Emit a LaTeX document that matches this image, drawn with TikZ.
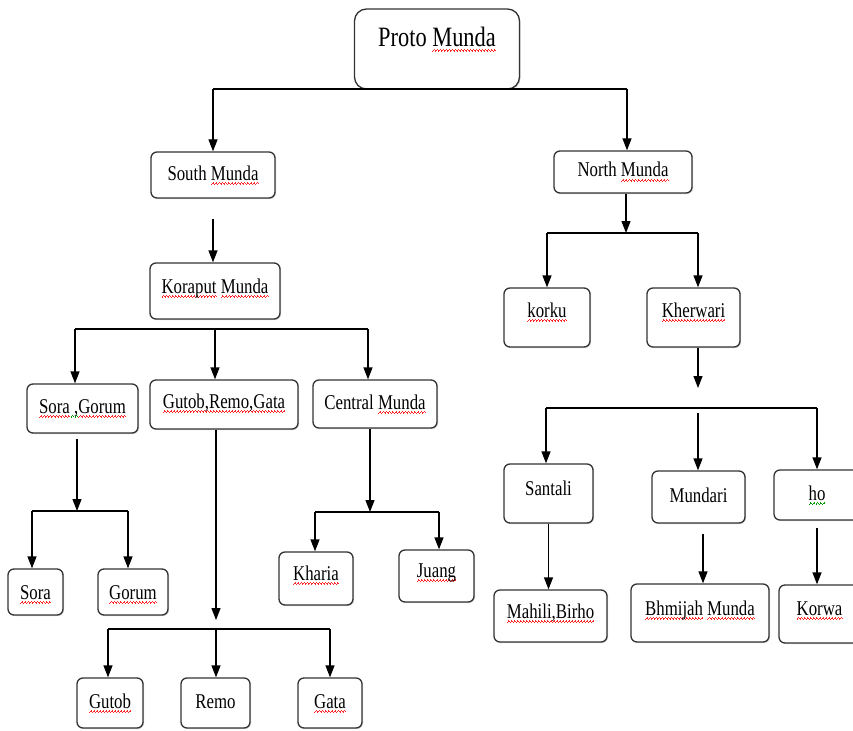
\documentclass[tikz,border=0pt]{standalone}
\usepackage{fontspec}
\setmainfont{Liberation Serif}[FakeStretch=0.8]
\usepackage{tikz}
\usetikzlibrary{arrows.meta, positioning, shadows}
\usepackage{xcolor}
\newsavebox{\wordbox}
\newcommand{\wave}{\hbox{\rule[-4.6pt]{0.75pt}{1pt}\rule[-3.7pt]{0.75pt}{1pt}\rule[-2.8pt]{0.75pt}{1pt}\rule[-3.7pt]{0.75pt}{1pt}}}
\newcommand{\squig}[2]{\sbox{\wordbox}{#2}\rlap{\hbox to \wd\wordbox{\color{#1}\xleaders\wave\hfill}}\usebox{\wordbox}}
\newcommand{\spell}[1]{\squig{red!85!white}{#1}}
\newcommand{\grammar}[1]{\squig{green!60!black}{#1}}
\tikzset{%
	every lang/.style={
		draw=black!80,
		line width=1.3pt,
		rounded corners=6pt,
		fill=white,
		inner sep=0pt,
		text height=14pt,
		text depth=4pt,
		font=\fontsize{21}{24}\selectfont,
		drop shadow={shadow xshift=1pt, shadow yshift=-1pt, opacity=0.35}
	},
}

\begin{document}
\begin{tikzpicture}[
				x=1pt, y=-1pt,
				line width=1.3pt,
				branch/.style={-{Triangle[length=12pt, width=9pt]}}
				]
				\useasboundingbox (0,0) rectangle (853,730);
				
				% Language boxes
				\node[every lang, minimum width=165pt, minimum height=80pt, rounded corners=12pt, font=\fontsize{28}{32}\selectfont, text height=20pt, text depth=24pt] (proto) at (437,49) {Proto \spell{Munda}};
				\node[every lang, minimum width=124pt, minimum height=46pt] (south) at (213,175) {South \spell{Munda}};
				\node[every lang, minimum width=138pt, minimum height=42pt] (north) at (623,172) {North \spell{Munda}};
				\node[every lang, minimum width=130pt, minimum height=56pt, text depth=10pt] (koraput) at (215,291) {\spell{Koraput} \spell{Munda}};
				\node[every lang, minimum width=111pt, minimum height=49pt] (soragorum) at (82.5,408.5) {\spell{Sora}\grammar{\ ,}\spell{Gorum}};
				\node[every lang, minimum width=148pt, minimum height=49pt, text depth=7pt] (gutobremo) at (224,404.5) {\spell{Gutob,Remo,Gata}};
				\node[every lang, minimum width=124pt, minimum height=48pt] (central) at (375,404) {Central \spell{Munda}};
				\node[every lang, minimum width=55pt, minimum height=46pt, text depth=0pt] (sora) at (35.5,592) {\spell{Sora}};
				\node[every lang, minimum width=70pt, minimum height=46pt, text depth=0pt] (gorum) at (133,592) {\spell{Gorum}};
				\node[every lang, minimum width=66pt, minimum height=50pt] (gutob) at (110,703) {\spell{Gutob}};
				\node[every lang, minimum width=69pt, minimum height=50pt] (remo) at (215.5,703) {Remo};
				\node[every lang, minimum width=64pt, minimum height=50pt] (gata) at (330,703) {\spell{Gata}};
				\node[every lang, minimum width=74pt, minimum height=53pt, text depth=11pt] (kharia) at (316,578.5) {\spell{Kharia}};
				\node[every lang, minimum width=75pt, minimum height=52pt, text depth=12pt] (juang) at (436.5,576) {\spell{Juang}};
				\node[every lang, minimum width=86pt, minimum height=59pt, text depth=15pt] (korku) at (547,317.5) {\spell{korku}};
				\node[every lang, minimum width=93pt, minimum height=59pt, text depth=15pt] (kherwari) at (693.5,317.5) {\spell{Kherwari}};
				\node[every lang, minimum width=89pt, minimum height=59pt, text depth=11pt] (santali) at (548.5,493.5) {Santali};
				\node[every lang, minimum width=93pt, minimum height=52pt] (mundari) at (698.5,497) {Mundari};
				\node[every lang, minimum width=86pt, minimum height=50pt] (ho) at (817,495) {\grammar{ho}};
				\node[every lang, minimum width=113pt, minimum height=52pt, text depth=10pt] (mahili) at (550.5,616) {\spell{Mahili,Birho}};
				\node[every lang, minimum width=138pt, minimum height=58pt, text depth=10pt] (bhmijah) at (700,613) {\spell{Bhmijah} \spell{Munda}};
				\node[every lang, minimum width=81pt, minimum height=58pt, text depth=12pt] (korwa) at (819.5,614) {\spell{Korwa}};
				
				% Bar ends
				\coordinate (pL) at (213,89);
				\coordinate (pR) at (627,89);
				\coordinate (kL) at (75,329);
				\coordinate (kM) at (215,329);
				\coordinate (kR) at (368,329);
				\coordinate (sL) at (32,511);
				\coordinate (sM) at (77,511);
				\coordinate (sR) at (128,511);
				\coordinate (gL) at (108,629);
				\coordinate (gM) at (216,629);
				\coordinate (gR) at (330,629);
				\coordinate (cL) at (315,512);
				\coordinate (cM) at (370,512);
				\coordinate (cR) at (439,512);
				\coordinate (nL) at (547,233);
				\coordinate (nM) at (626,233);
				\coordinate (nR) at (698,233);
				\coordinate (wL) at (546,408);
				\coordinate (wM) at (698,408);
				\coordinate (wR) at (817,408);
				
				% Proto Munda
				\draw (pL) -- (pR);
				\draw[branch] (pL) -- (pL |- south.north);
				\draw[branch] (pR) -- (pR |- north.north);
				
				% South Munda branch
				\draw[branch] ([yshift=-20pt]south.south) -- (south.south |- koraput.north);
				\draw (kL) -- (kR);
				\draw[branch] (kL) -- (kL |- soragorum.north);
				\draw[branch] (kM) -- (kM |- gutobremo.north);
				\draw[branch] (kR) -- (kR |- central.north);
				\draw[branch] ([yshift=-5pt]sM |- soragorum.south) -- (sM);
				\draw (sL) -- (sR);
				\draw[branch] (sL) -- (sL |- sora.north);
				\draw[branch] (sR) -- (sR |- gorum.north);
				\draw[branch] (gM |- gutobremo.south) -- ([yshift=9pt]gM);
				\draw (gL) -- (gR);
				\draw[branch] (gL) -- (gL |- gutob.north);
				\draw[branch] (gM) -- (gM |- remo.north);
				\draw[branch] (gR) -- (gR |- gata.north);
				\draw[branch] (cM |- central.south) -- (cM);
				\draw (cL) -- (cR);
				\draw[branch] (cL) -- (cL |- kharia.north);
				\draw[branch] (cR) -- (cR |- juang.north);
				
				% North Munda branch
				\draw[branch] (nM |- north.south) -- (nM);
				\draw (nL) -- (nR);
				\draw[branch] (nL) -- (nL |- korku.north);
				\draw[branch] (nR) -- (nR |- kherwari.north);
				\draw[branch] (wM |- kherwari.south) -- ([yshift=20pt]wM);
				\draw (wL) -- (wR);
				\draw[branch] (wL) -- (wL |- santali.north);
				\draw[branch] ([yshift=-5pt]wM) -- (wM |- mundari.north);
				\draw[branch] (wR) -- (wR |- ho.north);
				\draw[branch] (santali.south) -- (santali.south |- mahili.north);
				\draw[branch] ([xshift=4.5pt, yshift=-10pt]mundari.south) -- ([xshift=4.5pt]mundari.south |- bhmijah.north);
				\draw[branch] ([yshift=-7pt]ho.south) -- (ho.south |- korwa.north);
				
\end{tikzpicture}
\end{document}
